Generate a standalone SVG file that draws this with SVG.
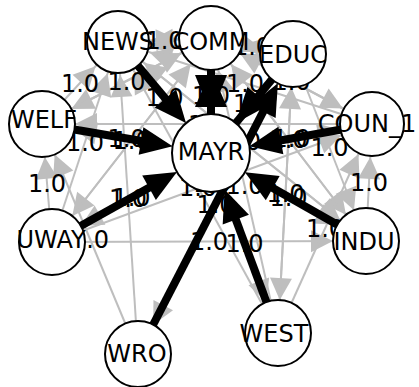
<svg xmlns="http://www.w3.org/2000/svg" width="419" height="387" viewBox="0 0 419 387">
  <style>
    .g line { stroke: #bebebe; stroke-width: 2; marker-end: url(#ga); }
    .b line { stroke: #000; stroke-width: 8; }
    .b line.h { marker-end: url(#ba); }
    .b polygon { fill: #000; }
    .lbl text { font-family: "DejaVu Sans", sans-serif; font-size: 24px; text-anchor: middle; fill: #000; }
    .node circle { fill: #fff; stroke: #000; stroke-width: 2; }
    .node text { font-family: "DejaVu Sans", sans-serif; font-size: 24px; text-anchor: middle; fill: #000; }
  </style>
  <defs>
    <!-- gray arrowhead, tip pulled back by the node radius (33) -->
    <marker id="ga" markerUnits="userSpaceOnUse" orient="auto" refX="55" refY="11" markerWidth="22" markerHeight="22" overflow="visible">
      <path d="M0,0 L22,11 L0,22 z" fill="#bebebe"/>
    </marker>
    <!-- black arrowhead; the line stops just inside its base -->
    <marker id="ba" markerUnits="userSpaceOnUse" orient="auto" refX="2" refY="14" markerWidth="32" markerHeight="28" overflow="visible">
      <path d="M0,0 L32,14 L0,28 z" fill="#000"/>
    </marker>
  </defs>

  <g id="edges">
    <g class="g">
      <line x1="372" y1="124" x2="211" y2="38"/>
      <line x1="372" y1="124" x2="118" y2="42"/>
      <line x1="372" y1="124" x2="42" y2="124"/>
      <line x1="211" y1="38" x2="372" y2="124"/>
      <line x1="211" y1="38" x2="293" y2="54"/>
      <line x1="211" y1="38" x2="366" y2="241"/>
      <line x1="211" y1="38" x2="118" y2="42"/>
      <line x1="211" y1="38" x2="52" y2="242"/>
      <line x1="211" y1="38" x2="42" y2="124"/>
      <line x1="293" y1="54" x2="211" y2="38"/>
      <line x1="293" y1="54" x2="366" y2="241"/>
      <line x1="293" y1="54" x2="138" y2="354"/>
      <line x1="293" y1="54" x2="118" y2="42"/>
      <line x1="293" y1="54" x2="278" y2="333"/>
      <line x1="366" y1="241" x2="372" y2="124"/>
      <line x1="366" y1="241" x2="211" y2="38"/>
      <line x1="366" y1="241" x2="118" y2="42"/>
      <line x1="211" y1="153" x2="372" y2="124"/>
      <line x1="211" y1="153" x2="366" y2="241"/>
      <line x1="211" y1="153" x2="118" y2="42"/>
      <line x1="211" y1="153" x2="52" y2="242"/>
      <line x1="211" y1="153" x2="42" y2="124"/>
      <line x1="211" y1="153" x2="278" y2="333"/>
      <line x1="138" y1="354" x2="118" y2="42"/>
      <line x1="138" y1="354" x2="42" y2="124"/>
      <line x1="118" y1="42" x2="211" y2="38"/>
      <line x1="118" y1="42" x2="366" y2="241"/>
      <line x1="52" y1="242" x2="372" y2="124"/>
      <line x1="52" y1="242" x2="211" y2="38"/>
      <line x1="52" y1="242" x2="366" y2="241"/>
      <line x1="52" y1="242" x2="118" y2="42"/>
      <line x1="52" y1="242" x2="42" y2="124"/>
      <line x1="42" y1="124" x2="211" y2="38"/>
      <line x1="42" y1="124" x2="118" y2="42"/>
      <line x1="278" y1="333" x2="372" y2="124"/>
      <line x1="278" y1="333" x2="211" y2="38"/>
      <line x1="278" y1="333" x2="293" y2="54"/>
      <line x1="278" y1="333" x2="118" y2="42"/>
    </g>

    <!-- edge values, one at the middle of each tie -->
    <g class="lbl">
      <text x="291.5" y="89.5">1.0</text>
      <text x="245" y="91.5">1.0</text>
      <text x="207" y="132.5">1.0</text>
      <text x="291.5" y="147">1.0</text>
      <text x="369" y="191">1.0</text>
      <text x="212" y="191.5">1.0</text>
      <text x="325" y="237">1.0</text>
      <text x="252" y="54.5">1.0</text>
      <text x="288.5" y="148">1.0</text>
      <text x="211" y="104">1.0</text>
      <text x="164.5" y="48.5">1.0</text>
      <text x="131.5" y="148.5">1.0</text>
      <text x="126.5" y="89.5">1.0</text>
      <text x="244.5" y="194">1.0</text>
      <text x="329.5" y="156">1.0</text>
      <text x="252" y="112">1.0</text>
      <text x="215.5" y="212.5">1.0</text>
      <text x="205.5" y="56.5">1.0</text>
      <text x="285.5" y="202">1.0</text>
      <text x="288.5" y="205.5">1.0</text>
      <text x="242" y="150">1.0</text>
      <text x="209" y="250">1.0</text>
      <text x="164.5" y="106">1.0</text>
      <text x="131.5" y="206">1.0</text>
      <text x="126.5" y="147">1.0</text>
      <text x="244.5" y="251.5">1.0</text>
      <text x="128" y="206.5">1.0</text>
      <text x="90" y="247.5">1.0</text>
      <text x="85" y="150.5">1.0</text>
      <text x="80" y="91.5">1.0</text>
      <text x="198" y="196">1.0</text>
      <text x="47" y="191.5">1.0</text>
    </g>

    <!-- heavy ties -->
    <g class="b">
      <line class="h" x1="372" y1="124" x2="278.9" y2="140.8"/>
      <line class="h" x1="118" y1="42" x2="166.7" y2="100.1"/>
      <line class="h" x1="42" y1="124" x2="143" y2="141.3"/>
      <line class="h" x1="52" y1="242" x2="150.8" y2="186.7"/>
      <line class="h" x1="366" y1="241" x2="271" y2="187.1"/>
      <line class="h" x1="278" y1="333" x2="235.1" y2="217.7"/>
      <!-- WRO -> EDUC, running under MAYR -->
      <line class="h" x1="138" y1="354" x2="264.1" y2="109.9"/>
      <!-- COMM <-> MAYR -->
      <line x1="211" y1="38" x2="211" y2="153"/>
      <polygon points="195,75 227,75 211,114"/>
      <polygon points="195,107 227,107 211,70"/>
      <!-- EDUC -> MAYR -->
      <line x1="293" y1="54" x2="211" y2="153"/>
      <polygon points="235.9,123 269,104.9 247.4,87.1"/>
    </g>
  </g>

  <g id="NEWS" class="node"><circle cx="118" cy="42" r="31"/><text x="118" y="50">NEWS</text></g>
  <g id="COMM" class="node"><circle cx="211" cy="38" r="32"/><text x="211" y="50">COMM</text></g>
  <g id="EDUC" class="node"><circle cx="293" cy="54" r="33"/><text x="293" y="63">EDUC</text></g>
  <g id="WELF" class="node"><circle cx="42" cy="124" r="33"/><text x="44" y="128">WELF</text></g>
  <g id="MAYR" class="node"><circle cx="211" cy="153" r="39"/><text x="211" y="160">MAYR</text></g>
  <g id="COUN_1" class="node"><circle cx="372" cy="124" r="32"/><text x="367" y="132">COUN_1</text></g>
  <g id="UWAY" class="node"><circle cx="52" cy="242" r="33"/><text x="51" y="248">UWAY</text></g>
  <g id="INDU" class="node"><circle cx="366" cy="241" r="33"/><text x="364" y="250">INDU</text></g>
  <g id="WRO" class="node"><circle cx="138" cy="354" r="33"/><text x="137" y="362">WRO</text></g>
  <g id="WEST" class="node"><circle cx="278" cy="333" r="33"/><text x="274" y="342">WEST</text></g>
</svg>
